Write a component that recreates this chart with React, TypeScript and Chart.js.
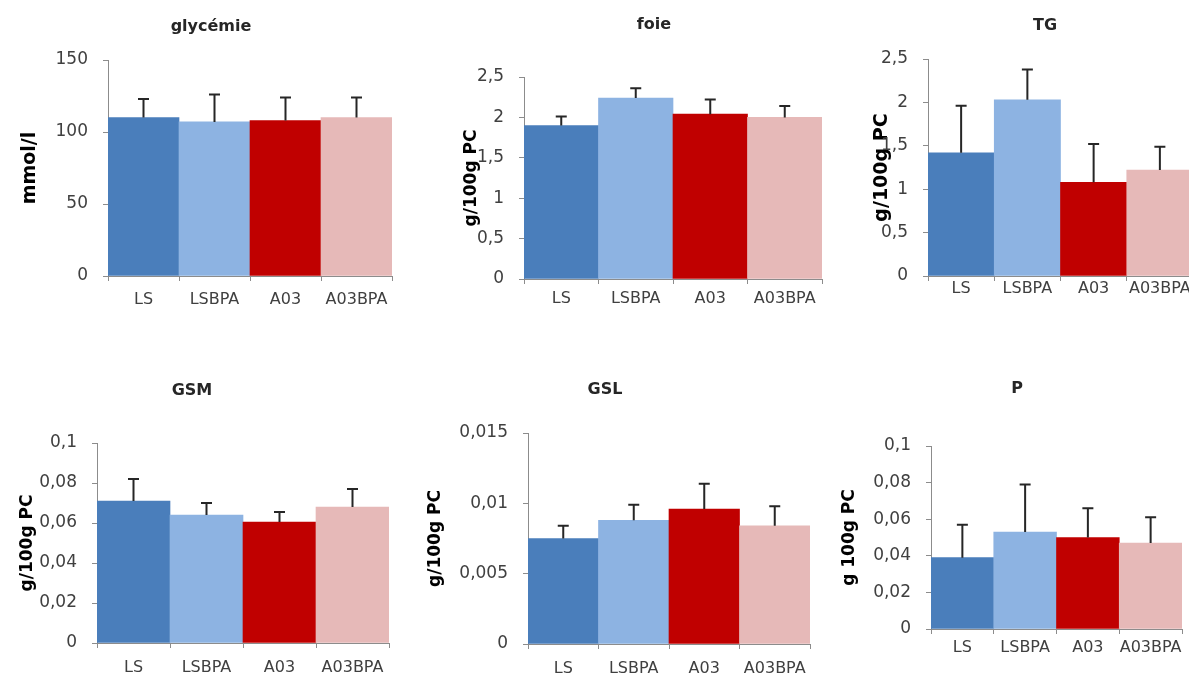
import React, { useEffect, useRef } from 'react';
import { Chart, registerables } from 'chart.js';

Chart.register(...registerables);
Chart.defaults.font.family = "'DejaVu Sans', sans-serif";

// ---- data ----
const categories = ['LS', 'LSBPA', 'A03', 'A03BPA'];

const glycemieMeans = [110, 107, 108, 110];
const glycemieErrors = [13, 19, 16, 14];
const glycemieTicks = { max: 150, step: 50 };

const foieMeans = [1.9, 2.24, 2.04, 2.0];
const foieErrors = [0.11, 0.12, 0.18, 0.14];
const foieTicks = { max: 2.5, step: 0.5 };

const tgMeans = [1.42, 2.03, 1.08, 1.22];
const tgErrors = [0.54, 0.35, 0.44, 0.27];
const tgTicks = { max: 2.5, step: 0.5 };

const gsmMeans = [0.071, 0.064, 0.0605, 0.068];
const gsmErrors = [0.011, 0.006, 0.005, 0.009];
const gsmTicks = { max: 0.1, step: 0.02 };

const gslMeans = [0.0075, 0.0088, 0.0096, 0.0084];
const gslErrors = [0.0009, 0.0011, 0.0018, 0.0014];
const gslTicks = { max: 0.015, step: 0.005 };

const pMeans = [0.039, 0.053, 0.05, 0.047];
const pErrors = [0.018, 0.026, 0.016, 0.014];
const pTicks = { max: 0.1, step: 0.02 };

// ---- styles ----
const barColors = ['#4A7EBB', '#8DB3E2', '#C00000', '#E6B9B8'];
const AXIS = '#8c8c8c';
const LABEL = '#404040';
const FONT = "'DejaVu Sans', sans-serif";
const TITLE_SIZE = 16;
const X_FONT = 16;
const Y_FONT = 17;

type Geom = {
  plotL: number; plotR: number; plotT: number; plotB: number;
  titleX: number; titleY: number; yTitleX: number; xLabelY: number;
};
type Panel = {
  title: string; yLabel: string; yLabelSize: number;
  means: number[]; errors: number[]; ticks: { max: number; step: number };
  geom: Geom;
};

const panels: Panel[] = [
  { title: 'glycémie', yLabel: 'mmol/l', yLabelSize: 19, means: glycemieMeans, errors: glycemieErrors, ticks: glycemieTicks,
    geom: { plotL: 108, plotR: 392, plotT: 60, plotB: 276, titleX: 211, titleY: 27, yTitleX: 30, xLabelY: 300 } },
  { title: 'foie', yLabel: 'g/100g PC', yLabelSize: 17, means: foieMeans, errors: foieErrors, ticks: foieTicks,
    geom: { plotL: 524, plotR: 822, plotT: 77, plotB: 279, titleX: 654, titleY: 25, yTitleX: 472, xLabelY: 299 } },
  { title: 'TG', yLabel: 'g/100g PC', yLabelSize: 19, means: tgMeans, errors: tgErrors, ticks: tgTicks,
    geom: { plotL: 928, plotR: 1193, plotT: 59, plotB: 276, titleX: 1045, titleY: 26, yTitleX: 882, xLabelY: 289 } },
  { title: 'GSM', yLabel: 'g/100g PC', yLabelSize: 17, means: gsmMeans, errors: gsmErrors, ticks: gsmTicks,
    geom: { plotL: 97, plotR: 389, plotT: 443, plotB: 643, titleX: 192, titleY: 391, yTitleX: 28, xLabelY: 668 } },
  { title: 'GSL', yLabel: 'g/100g PC', yLabelSize: 17, means: gslMeans, errors: gslErrors, ticks: gslTicks,
    geom: { plotL: 528, plotR: 810, plotT: 433, plotB: 644, titleX: 605, titleY: 390, yTitleX: 436, xLabelY: 669 } },
  { title: 'P', yLabel: 'g 100g PC', yLabelSize: 17, means: pMeans, errors: pErrors, ticks: pTicks,
    geom: { plotL: 931, plotR: 1182, plotT: 446, plotB: 629, titleX: 1017, titleY: 389, yTitleX: 850, xLabelY: 648 } },
];

function makeErrorPlugin(errors: number[]) {
  return {
    id: 'errorBars',
    afterDatasetsDraw(chart: any) {
      const meta = chart.getDatasetMeta(0);
      const yScale = chart.scales.y;
      const values = chart.data.datasets[0].data as number[];
      const ctx = chart.ctx;
      const cap = 11;
      ctx.save();
      ctx.strokeStyle = '#262626';
      ctx.lineWidth = 2;
      meta.data.forEach((bar: any, i: number) => {
        const yTop = yScale.getPixelForValue(values[i] + errors[i]);
        ctx.beginPath();
        ctx.moveTo(bar.x, bar.y);
        ctx.lineTo(bar.x, yTop);
        ctx.moveTo(bar.x - cap / 2, yTop);
        ctx.lineTo(bar.x + cap / 2, yTop);
        ctx.stroke();
      });
      ctx.restore();
    },
  };
}

function makeTitlePlugin(text: string, dx: number, dy: number) {
  return {
    id: 'panelTitle',
    afterDraw(chart: any) {
      const { ctx, chartArea } = chart;
      ctx.save();
      ctx.font = `bold ${TITLE_SIZE}px ${FONT}`;
      ctx.fillStyle = '#262626';
      ctx.textAlign = 'center';
      ctx.textBaseline = 'middle';
      ctx.fillText(text, chartArea.left + dx, chartArea.top + dy);
      ctx.restore();
    },
  };
}

function PanelChart({ p }: { p: Panel }) {
  const ref = useRef<HTMLCanvasElement>(null);
  const g = p.geom;
  const padR = 12;
  const lhY = p.yLabelSize * 1.2;
  const yTitlePad = 4;
  const L = Math.round(g.yTitleX - lhY / 2 - yTitlePad);
  const T = g.titleY - 20;
  const Hx = 45;
  const width = Math.round(g.plotR + padR - L);
  const height = Math.round(g.plotB - T + Hx);

  useEffect(() => {
    if (!ref.current) return;
    const chart = new Chart(ref.current, {
      type: 'bar',
      data: {
        labels: categories,
        datasets: [{
          data: p.means,
          backgroundColor: barColors,
          borderWidth: 0,
          barPercentage: 1,
          categoryPercentage: 1,
        }],
      },
      options: {
        responsive: false,
        animation: false,
        devicePixelRatio: 1,
        layout: { padding: { left: 0, right: padR, top: g.plotT - T, bottom: 0 } },
        plugins: {
          legend: { display: false },
          tooltip: { enabled: false },
          title: { display: false },
        },
        scales: {
          x: {
            offset: true,
            grid: { display: true, drawOnChartArea: false, tickLength: 5, color: AXIS, offset: true },
            border: { display: true, color: AXIS, width: 1 },
            ticks: { color: LABEL, font: { size: X_FONT }, padding: g.xLabelY - g.plotB - 5 - (X_FONT * 1.2) / 2, maxRotation: 0, autoSkip: false },
            afterFit: (s: any) => { s.height = Hx; },
          },
          y: {
            min: 0,
            max: p.ticks.max,
            ticks: {
              stepSize: p.ticks.step,
              color: LABEL,
              font: { size: Y_FONT },
              padding: 15,
              callback: (v: any) => Number(v).toLocaleString('fr-FR', { maximumFractionDigits: 3 }),
            },
            grid: { display: true, drawOnChartArea: false, tickLength: 5, color: AXIS },
            border: { display: true, color: AXIS, width: 1 },
            title: {
              display: true,
              text: p.yLabel,
              color: '#000',
              font: { size: p.yLabelSize, weight: 'bold' },
              padding: { top: g.yTitleX - L - lhY / 2, bottom: 0 },
            },
            afterFit: (s: any) => { s.width = g.plotL - L; },
          },
        },
      } as any,
      plugins: [makeErrorPlugin(p.errors), makeTitlePlugin(p.title, g.titleX - g.plotL, g.titleY - g.plotT)],
    });
    return () => chart.destroy();
  }, []);

  return (
    <canvas
      ref={ref}
      width={width}
      height={height}
      style={{ position: 'absolute', left: L, top: T, width, height }}
    />
  );
}

export default function App() {
  return (
    <div style={{ position: 'fixed', left: 0, top: 0, width: 1189, height: 677, overflow: 'hidden', background: '#fff' }}>
      {panels.map((p) => (
        <PanelChart key={p.title} p={p} />
      ))}
    </div>
  );
}
